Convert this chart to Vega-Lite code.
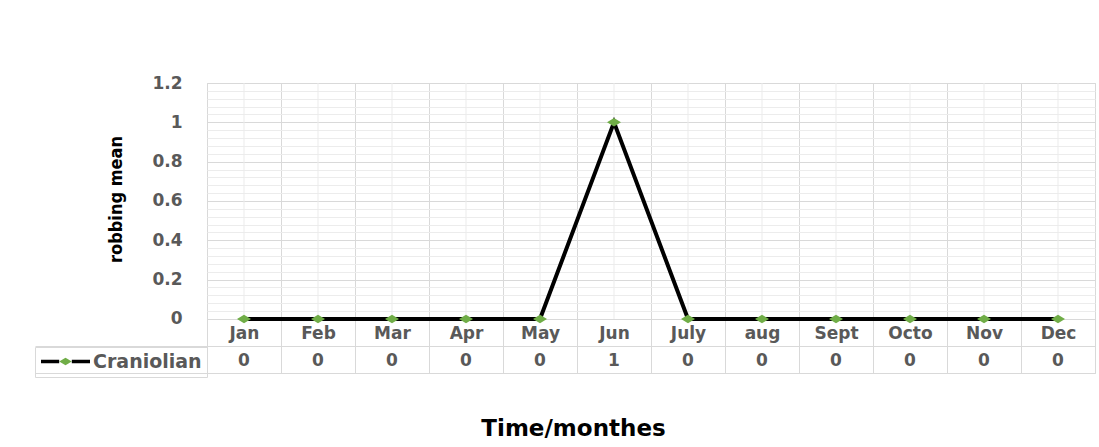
{
  "$schema": "https://vega.github.io/schema/vega-lite/v6.json",
  "autosize": "none",
  "width": 888,
  "height": 290,
  "padding": {"left": 207, "top": 83, "right": 4, "bottom": 74},
  "background": "white",
  "config": {
    "view": {"stroke": "#d9d9d9", "strokeWidth": 1},
    "axis": {"labelFont": "DejaVu Sans", "labelFontWeight": "bold", "labelColor": "#595959", "labelFontSize": 17}
  },
  "data": {
    "values": [
      {"month": "Jan", "value": 0, "series": "Craniolian"},
      {"month": "Feb", "value": 0, "series": "Craniolian"},
      {"month": "Mar", "value": 0, "series": "Craniolian"},
      {"month": "Apr", "value": 0, "series": "Craniolian"},
      {"month": "May", "value": 0, "series": "Craniolian"},
      {"month": "Jun", "value": 1, "series": "Craniolian"},
      {"month": "July", "value": 0, "series": "Craniolian"},
      {"month": "aug", "value": 0, "series": "Craniolian"},
      {"month": "Sept", "value": 0, "series": "Craniolian"},
      {"month": "Octo", "value": 0, "series": "Craniolian"},
      {"month": "Nov", "value": 0, "series": "Craniolian"},
      {"month": "Dec", "value": 0, "series": "Craniolian"}
    ]
  },
  "encoding": {
    "x": {"field": "month", "type": "ordinal", "sort": null,
          "scale": {"paddingInner": 0, "paddingOuter": 0},
          "axis": {"orient": "bottom", "offset": -54, "tickBand": "extent", "grid": true,
                   "gridColor": "#d9d9d9", "domain": true, "domainColor": "#d9d9d9",
                   "ticks": false, "labelAngle": 0, "labelBaseline": "middle", "labelPadding": 14,
                   "title": "Time/monthes", "titleFont": "DejaVu Sans", "titleFontWeight": "bold",
                   "titleFontSize": 23, "titleColor": "#000000", "titleX": 366, "titleY": 109,
                   "titleBaseline": "middle", "titleAlign": "center"}}
  },
  "resolve": {"axis": {"y": "independent"}},
  "layer": [
    {
      "mark": {"type": "rule", "color": "#ebebeb", "strokeWidth": 1},
      "encoding": {
        "y": {"datum": 0, "type": "quantitative",
              "scale": {"domain": [-0.275, 1.2], "nice": false, "zero": false},
              "axis": {"orient": "left", "values": [-0.14, -0.275], "labels": false, "domain": false,
                       "grid": true, "gridColor": "#d9d9d9", "ticks": true, "tickSize": 172,
                       "tickColor": "#d9d9d9", "title": null}},
        "y2": {"datum": 1.2}
      }
    },
    {
      "mark": {"type": "line", "strokeWidth": 4},
      "encoding": {
        "y": {"field": "value", "type": "quantitative",
              "axis": {"orient": "left", "values": [0, 0.2, 0.4, 0.6, 0.8, 1, 1.2], "format": "~g",
                       "grid": true, "gridColor": "#d9d9d9", "domain": false, "ticks": false,
                       "labelPadding": 25,
                       "title": "robbing mean", "titleFont": "DejaVu Sans Condensed, Liberation Sans, sans-serif",
                       "titleFontWeight": "bold",
                       "titleFontSize": 18, "titleColor": "#000000", "titleX": -91, "titleY": 116,
                       "titleBaseline": "middle", "titleAlign": "center", "titleAngle": -90}},
        "stroke": {"field": "series", "type": "nominal", "scale": {"range": ["#000000"]},
                   "legend": {"orient": "none", "legendX": -172, "legendY": 264, "title": null,
                              "padding": 5, "strokeColor": "#d9d9d9", "symbolOffset": 16,
                              "symbolType": "M-3.5,0L-0.9,0M0.9,0L3.5,0", "symbolSize": 196,
                              "symbolStrokeWidth": 3.5, "labelOffset": 18,
                              "labelFont": "DejaVu Sans", "labelFontWeight": "bold",
                              "labelFontSize": 19, "labelColor": "#595959"}}
      }
    },
    {
      "mark": {"type": "point", "filled": true, "shape": "M-1,0L0,-0.6L1,0L0,0.6Z", "size": 196,
               "opacity": 1, "strokeWidth": 0},
      "encoding": {
        "y": {"field": "value", "type": "quantitative",
              "axis": {"orient": "left",
                       "values": [0.04, 0.08, 0.12, 0.16, 0.24, 0.28, 0.32, 0.36, 0.44, 0.48, 0.52, 0.56,
                                  0.64, 0.68, 0.72, 0.76, 0.84, 0.88, 0.92, 0.96, 1.04, 1.08, 1.12, 1.16],
                       "grid": true, "gridColor": "#ececec", "labels": false, "ticks": false,
                       "domain": false, "title": null}},
        "fill": {"field": "series", "type": "nominal",
                 "scale": {"domain": ["Craniolian"], "range": ["#70ad47"]},
                 "legend": {"orient": "none", "legendX": -172, "legendY": 264, "title": null,
                            "padding": 5, "symbolOffset": 16,
                            "symbolType": "M-0.9,0L0,-0.55L0.9,0L0,0.55Z", "symbolSize": 196,
                            "symbolStrokeWidth": 0, "labelOffset": 18,
                            "labelFont": "DejaVu Sans", "labelFontWeight": "bold",
                            "labelFontSize": 19, "labelColor": "#595959", "labelOpacity": 0}}
      }
    },
    {
      "mark": {"type": "text", "font": "DejaVu Sans", "fontWeight": "bold", "fontSize": 17,
               "color": "#595959", "baseline": "middle", "align": "center"},
      "encoding": {
        "y": {"datum": -0.215, "type": "quantitative", "axis": null},
        "text": {"field": "value", "type": "quantitative"}
      }
    }
  ]
}
